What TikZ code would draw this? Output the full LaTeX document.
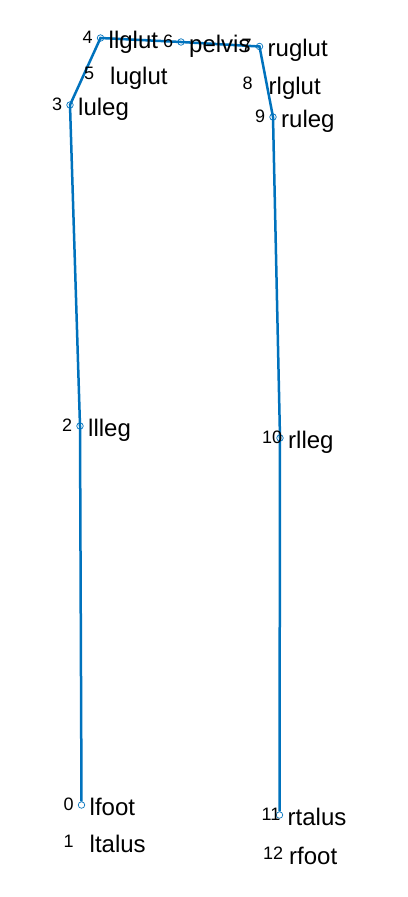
\documentclass[tikz,border=0pt]{standalone}
\usepackage{fontspec}
\setmainfont{Liberation Sans}
\usepackage{xcolor}
\definecolor{matblue}{HTML}{0072BD}
\tikzset{
  % joint marker and skeleton line
  mk/.style={
    circle, draw=matblue, line width = 0.7bp,
    minimum size = 6.5bp, inner sep = 0pt
  },
  bone/.style={
    draw=matblue, line width = 2.5bp
  },
  % index and name texts
  num/.style={font=\fontsize{18bp}{18bp}\selectfont, inner sep=0pt, anchor=base west},
  lbl/.style={font=\fontsize{24bp}{24bp}\selectfont, inner sep=0pt, anchor=base west},
}

\begin{document}
\begin{tikzpicture}[x=1bp, y=-1bp]
          \useasboundingbox[fill=white] (0,0) rectangle (407,897);

          % joints
          \node (p0) [mk] at (81.5,805) {};
          \coordinate (p1) at (81.5,842);
          \node (p2) [mk] at (80,426) {};
          \node (p3) [mk] at (70,105) {};
          \node (p4) [mk] at (100.5,38) {};
          \coordinate (p5) at (102,74);
          \node (p6) [mk] at (181,42) {};
          \node (p7) [mk] at (259.5,46.5) {};
          \coordinate (p8) at (260.5,84);
          \node (p9) [mk] at (273,117) {};
          \node (p10) [mk] at (280,438) {};
          \node (p11) [mk] at (279.5,815) {};
          \coordinate (p12) at (281,854);

          \draw[bone] (p0.north) -- (p2.center) -- (p3.center) -- (p4.center)
                      -- (p6.center) -- (p7.center) -- (p9.center)
                      -- (p10.center) -- (p11.north);

          % indices
          \node (n0) [num] at ([shift={(-18,5)}]p0) {0};
          \node (n1) [num] at ([shift={(-18,5)}]p1) {1};
          \node (n2) [num] at ([shift={(-18,5)}]p2) {2};
          \node (n3) [num] at ([shift={(-18,5)}]p3) {3};
          \node (n4) [num] at ([shift={(-18,5)}]p4) {4};
          \node (n5) [num] at ([shift={(-18,5)}]p5) {5};
          \node (n6) [num] at ([shift={(-18,5)}]p6) {6};
          \node (n7) [num] at ([shift={(-18,5)}]p7) {7};
          \node (n8) [num] at ([shift={(-18,5)}]p8) {8};
          \node (n9) [num] at ([shift={(-18,5)}]p9) {9};
          \node (n10) [num] at ([shift={(-18,5)}]p10) {10};
          \node (n11) [num] at ([shift={(-18,5)}]p11) {11};
          \node (n12) [num] at ([shift={(-18,5)}]p12) {12};

          % names
          \node (t0) [lbl] at ([shift={(8,10)}]p0) {lfoot};
          \node (t1) [lbl] at ([shift={(8,10)}]p1) {ltalus};
          \node (t2) [lbl] at ([shift={(8,10)}]p2) {llleg};
          \node (t3) [lbl] at ([shift={(8,10)}]p3) {luleg};
          \node (t4) [lbl] at ([shift={(8,10)}]p4) {llglut};
          \node (t5) [lbl] at ([shift={(8,10)}]p5) {luglut};
          \node (t6) [lbl] at ([shift={(8,10)}]p6) {pelvis};
          \node (t7) [lbl] at ([shift={(8,10)}]p7) {ruglut};
          \node (t8) [lbl] at ([shift={(8,10)}]p8) {rlglut};
          \node (t9) [lbl] at ([shift={(8,10)}]p9) {ruleg};
          \node (t10) [lbl] at ([shift={(8,10)}]p10) {rlleg};
          \node (t11) [lbl] at ([shift={(8,10)}]p11) {rtalus};
          \node (t12) [lbl] at ([shift={(8,10)}]p12) {rfoot};
      \end{tikzpicture}
\end{document}
